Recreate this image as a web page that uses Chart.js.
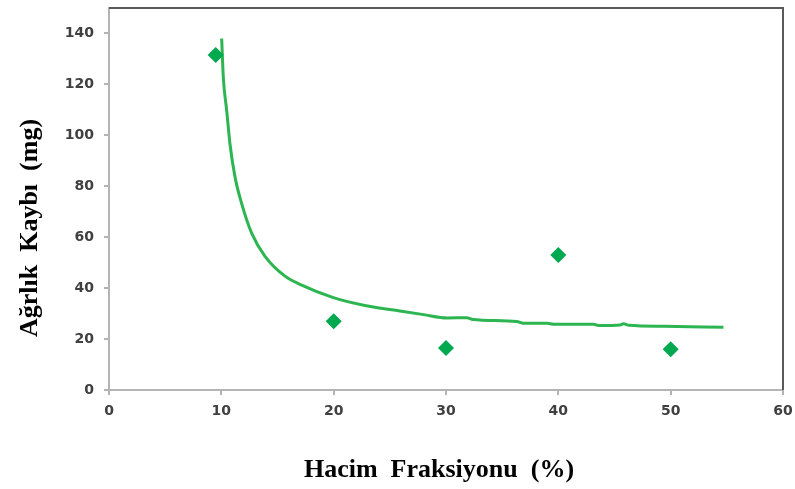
<!DOCTYPE html>
<html>
<head>
<meta charset="utf-8">
<script src="https://cdn.jsdelivr.net/npm/chart.js@4.4.1/dist/chart.umd.min.js"></script>
<style>
  html, body { margin: 0; padding: 0; background: #fff; }
  #wrap { width: 795px; height: 489px; }
</style>
</head>
<body>
<div id="wrap"><canvas id="chart"></canvas></div>
<script>
// measured points
var sampleX = [9.5, 20, 30, 40, 50]
var sampleY = [131.5, 27, 16.5, 53, 16]

// fitted curve
var fitX = [10.03, 10.18, 10.48, 10.77, 11.22, 11.81, 12.7, 13.89, 15.67, 17.0, 19.97, 22.9, 25.9, 28.0, 30.1, 31.85, 32.4, 36.3, 36.9, 39.0, 39.6, 43.1, 43.7, 45.5, 45.8, 46.3, 49.4, 54.7]
var fitY = [138, 122.5, 109.6, 96.6, 83.6, 73.2, 61.6, 52.5, 44.7, 41.5, 36.3, 33.1, 31, 29.6, 28.3, 28.4, 27.7, 26.9, 26.2, 26.2, 25.8, 25.8, 25.3, 25.5, 26.0, 25.4, 25.0, 24.6]

var xTicks = [0, 10, 20, 30, 40, 50, 60]
var yTicks = [0, 20, 40, 60, 80, 100, 120, 140]

var xTitle = 'Hacim  Fraksiyonu  (%)'
var yTitle = 'Ağrlık  Kaybı  (mg)'

function toPoints(xs, ys) {
    var pts = []
    for (var i = 0; i < xs.length; i++) {
        pts.push({x: xs[i], y: ys[i]})
    }
    return pts
}

// top/right frame + axis titles
var framePlugin = {
    id: 'frame',
    beforeDatasetsDraw: function(chart) {
        var a = chart.chartArea
        var ctx = chart.ctx
        ctx.save()
        ctx.strokeStyle = '#5a5a5a'
        ctx.lineWidth = 2
        ctx.beginPath()
        ctx.moveTo(a.left, a.top)
        ctx.lineTo(a.right, a.top)
        ctx.lineTo(a.right, a.bottom)
        ctx.stroke()
        ctx.restore()
    },
    afterDraw: function(chart) {
        var a = chart.chartArea
        var ctx = chart.ctx
        ctx.save()
        ctx.fillStyle = '#000'
        ctx.font = 'bold 26px "Liberation Serif", "Times New Roman", serif'
        ctx.textAlign = 'center'
        ctx.textBaseline = 'middle'
        ctx.fillText(xTitle, 439, a.bottom + 80)
        ctx.translate(30, 228)
        ctx.rotate(-Math.PI / 2)
        ctx.fillText(yTitle, 0, 0)
        ctx.restore()
    }
}

var tickFont = {family: '"DejaVu Sans", sans-serif', size: 14, weight: 'bold'}

const ctx = document.getElementById('chart').getContext('2d');
const myChart = new Chart(ctx, {
    type: 'scatter',
    data: {
        datasets: [
            {
                label: 'fit',
                data: toPoints(fitX, fitY),
                showLine: true,
                borderColor: '#2cb550',
                borderWidth: 3,
                pointRadius: 0,
                cubicInterpolationMode: 'monotone',
                order: 2
            },
            {
                label: 'data',
                data: toPoints(sampleX, sampleY),
                pointStyle: 'rectRot',
                pointRadius: 8,
                backgroundColor: '#00a84f',
                borderColor: '#00a84f',
                borderWidth: 0,
                order: 1
            }
        ]
    },
    options: {
        responsive: true,
        maintainAspectRatio: false,
        animation: false,
        layout: {
            padding: {top: 5, right: 12, bottom: 0, left: 0}
        },
        plugins: {
            legend: {display: false},
            tooltip: {enabled: false}
        },
        scales: {
            x: {
                type: 'linear',
                min: 0,
                max: 60,
                afterBuildTicks: function(scale) {
                    scale.ticks = xTicks.map(function(v) { return {value: v} })
                },
                afterFit: function(scale) {
                    scale.height = 99
                    scale.paddingLeft = 0
                    scale.paddingRight = 0
                },
                ticks: {
                    font: tickFont,
                    color: '#404040',
                    padding: 8
                },
                grid: {drawOnChartArea: false, drawTicks: true, tickLength: 5, color: '#b4b4b4', lineWidth: 2},
                border: {color: '#b4b4b4', width: 2}
            },
            y: {
                type: 'linear',
                min: 0,
                max: 150,
                afterBuildTicks: function(scale) {
                    scale.ticks = yTicks.map(function(v) { return {value: v} })
                },
                afterFit: function(scale) {
                    scale.width = 109
                    scale.paddingTop = 0
                    scale.paddingBottom = 0
                },
                ticks: {
                    font: tickFont,
                    color: '#404040',
                    padding: 10
                },
                grid: {drawOnChartArea: false, drawTicks: true, tickLength: 5, color: '#b4b4b4', lineWidth: 2},
                border: {color: '#b4b4b4', width: 2}
            }
        }
    },
    plugins: [framePlugin]
});
</script>
</body>
</html>
